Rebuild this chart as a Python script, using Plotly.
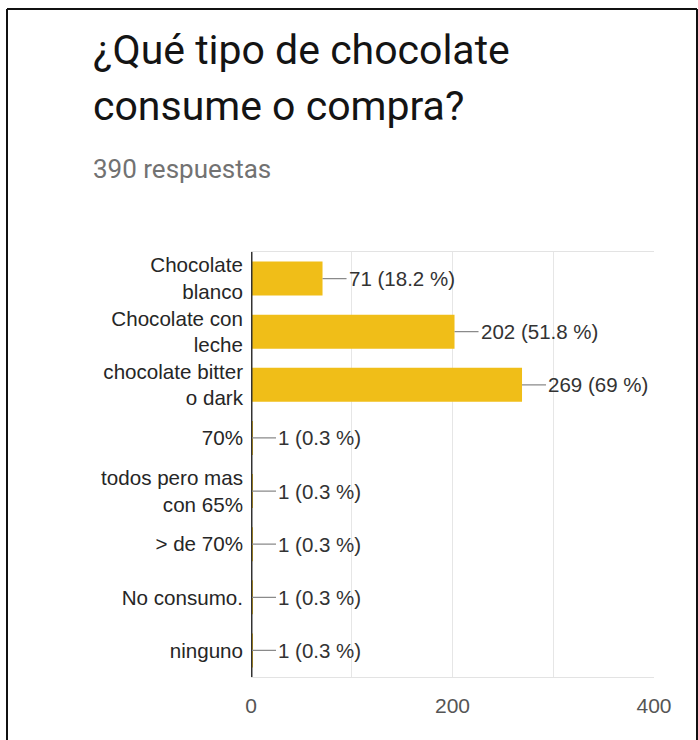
import plotly.graph_objects as go

# Survey answers: "¿Qué tipo de chocolate consume o compra?"
categories = [
    "Chocolate<br>blanco",
    "Chocolate con<br>leche",
    "chocolate bitter<br>o dark",
    "70%",
    "todos pero mas<br>con 65%",
    "> de 70%",
    "No consumo.",
    "ninguno",
]
counts = [71, 202, 269, 1, 1, 1, 1, 1]
percents = ["18.2", "51.8", "69", "0.3", "0.3", "0.3", "0.3", "0.3"]
total_responses = 390
x_tick_values = [0, 200, 400]

W, H = 698, 740

def px_x(p):
    return p / W

def px_y(p):
    return 1 - p / H

fig = go.Figure(
    go.Bar(
        x=counts,
        y=categories,
        orientation="h",
        marker=dict(color="#F0BE18", line=dict(width=0)),
        hoverinfo="skip",
    )
)

# value labels with a short leader line from the bar end
for c, cat, p in zip(counts, categories, percents):
    fig.add_annotation(
        x=c, y=cat, xref="x", yref="y",
        text=f"{c} ({p} %)",
        showarrow=True, arrowhead=0, arrowwidth=1.2, arrowcolor="#8a8a8a",
        ax=24, ay=0, axref="pixel", ayref="pixel",
        xanchor="left", yanchor="middle", standoff=0,
        font=dict(family="Liberation Sans, Arial, sans-serif", size=20.5, color="#333333"),
    )

# heading block
fig.add_annotation(
    x=px_x(91), y=px_y(50), xref="paper", yref="paper",
    text="¿Qué tipo de chocolate", showarrow=False,
    xanchor="left", yanchor="middle",
    font=dict(family="Roboto, sans-serif", size=41, color="#141414"),
)
fig.add_annotation(
    x=px_x(91), y=px_y(106), xref="paper", yref="paper",
    text="consume o compra?", showarrow=False,
    xanchor="left", yanchor="middle",
    font=dict(family="Roboto, sans-serif", size=41, color="#141414"),
)
fig.add_annotation(
    x=px_x(91), y=px_y(169), xref="paper", yref="paper",
    text=f"{total_responses} respuestas", showarrow=False,
    xanchor="left", yanchor="middle",
    font=dict(family="Roboto, sans-serif", size=26, color="#727272"),
)

# frame around the card (left, top and right edges; the bottom runs off the page)
frame = dict(color="#111111", width=2)
fig.add_shape(type="line", xref="paper", yref="paper",
              x0=px_x(7), x1=px_x(7), y0=0, y1=px_y(9), line=frame)
fig.add_shape(type="line", xref="paper", yref="paper",
              x0=px_x(7), x1=px_x(697), y0=px_y(9), y1=px_y(9), line=frame)
fig.add_shape(type="line", xref="paper", yref="paper",
              x0=px_x(697), x1=px_x(697), y0=0, y1=px_y(9), line=frame)

fig.update_layout(
    width=W, height=H,
    margin=dict(l=0, r=0, t=0, b=0),
    paper_bgcolor="white", plot_bgcolor="white",
    showlegend=False,
    bargap=0.36,
    xaxis=dict(
        domain=[px_x(251), px_x(654)],
        range=[0, 400],
        automargin=False,
        tickvals=x_tick_values,
        ticktext=[str(v) for v in x_tick_values],
        showgrid=True, gridcolor="#e6e6e6", gridwidth=1,
        minor=dict(dtick=100, showgrid=True, gridcolor="#e6e6e6"),
        zeroline=False,
        showline=True, linecolor="#e3e3e3", linewidth=1, mirror=True,
        ticks="", ticklabelstandoff=10,
        tickfont=dict(family="Liberation Sans, Arial, sans-serif", size=21, color="#555555"),
        fixedrange=True,
    ),
    yaxis=dict(
        domain=[px_y(677), px_y(252)],
        autorange="reversed",
        automargin=False,
        showgrid=False, zeroline=False,
        showline=False,
        ticks="", ticklabelstandoff=7,
        tickfont=dict(family="Liberation Sans, Arial, sans-serif", size=20.6, color="#262626"),
        fixedrange=True,
    ),
)

# dark baseline at zero
fig.add_shape(
    type="line", xref="x", yref="paper",
    x0=0, x1=0, y0=px_y(677), y1=px_y(252),
    line=dict(color="#333333", width=3),
)

fig.write_html("out.html")
